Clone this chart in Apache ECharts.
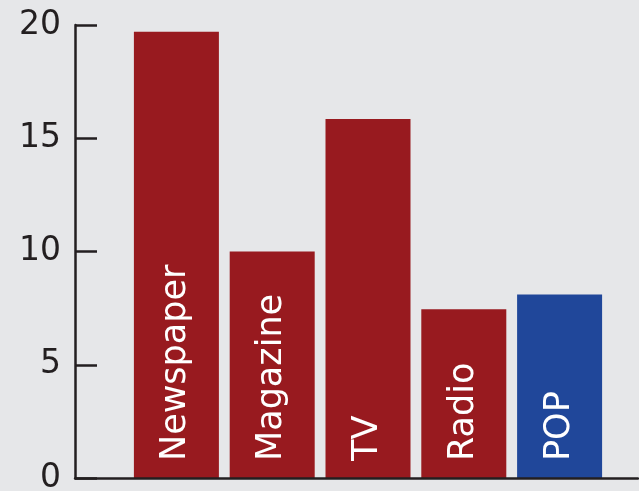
<!DOCTYPE html>
<html>
<head>
<meta charset="utf-8">
<script src="https://cdn.jsdelivr.net/npm/echarts@6/dist/echarts.min.js"></script>
<style>
  html, body { margin: 0; padding: 0; background: #e6e7e9; }
  #chart { width: 639px; height: 491px; }
</style>
</head>
<body>
<div id="chart"></div>
<script>
var categories = ["Newspaper", "Magazine", "TV", "Radio", "POP"];
var values = [19.7, 10, 15.85, 7.45, 8.1];
var barColors = ["#981a1f", "#981a1f", "#981a1f", "#981a1f", "#20479a"];
var yTicks = [0, 5, 10, 15, 20];

var ink = "#231f20";
var font = "DejaVu Sans";

var chart = echarts.init(document.getElementById("chart"));

var option = {
  backgroundColor: "#e6e7e9",
  animation: false,
  grid: [
    // frame grid: carries the y axis and the long baseline
    { left: 75, right: 1, top: 25, bottom: 13, outerBoundsMode: "none" },
    // bars grid
    { left: 128.5, right: 31.5, top: 25, bottom: 13, outerBoundsMode: "none" }
  ],
  xAxis: [
    {
      gridIndex: 0,
      type: "value",
      min: 0,
      max: 1,
      z: 10,
      axisLine: { show: true, lineStyle: { color: ink, width: 2.5 } },
      axisTick: { show: false },
      axisLabel: { show: false },
      splitLine: { show: false }
    },
    {
      gridIndex: 1,
      type: "category",
      data: categories,
      axisLine: { show: false },
      axisTick: { show: false },
      axisLabel: { show: false }
    }
  ],
  yAxis: [
    {
      gridIndex: 0,
      type: "value",
      min: yTicks[0],
      max: yTicks[yTicks.length - 1],
      interval: yTicks[1] - yTicks[0],
      axisLine: { show: true, lineStyle: { color: ink, width: 2.5 } },
      axisTick: { show: true, inside: true, length: 22, lineStyle: { color: ink, width: 2.5 } },
      axisLabel: {
        color: ink,
        fontSize: 33,
        fontFamily: font,
        margin: 14
      },
      splitLine: { show: false }
    },
    {
      gridIndex: 1,
      type: "value",
      min: yTicks[0],
      max: yTicks[yTicks.length - 1],
      show: false
    }
  ],
  series: [
    {
      type: "bar",
      xAxisIndex: 1,
      yAxisIndex: 1,
      barWidth: 85,
      data: values.map(function (v, i) {
        return { value: v, itemStyle: { color: barColors[i] } };
      }),
      label: {
        show: true,
        position: "insideBottom",
        rotate: 90,
        align: "left",
        verticalAlign: "middle",
        distance: 17,
        formatter: "{b}",
        color: "#ffffff",
        fontSize: 35,
        fontFamily: font
      }
    }
  ]
};

chart.setOption(option);
</script>
</body>
</html>
